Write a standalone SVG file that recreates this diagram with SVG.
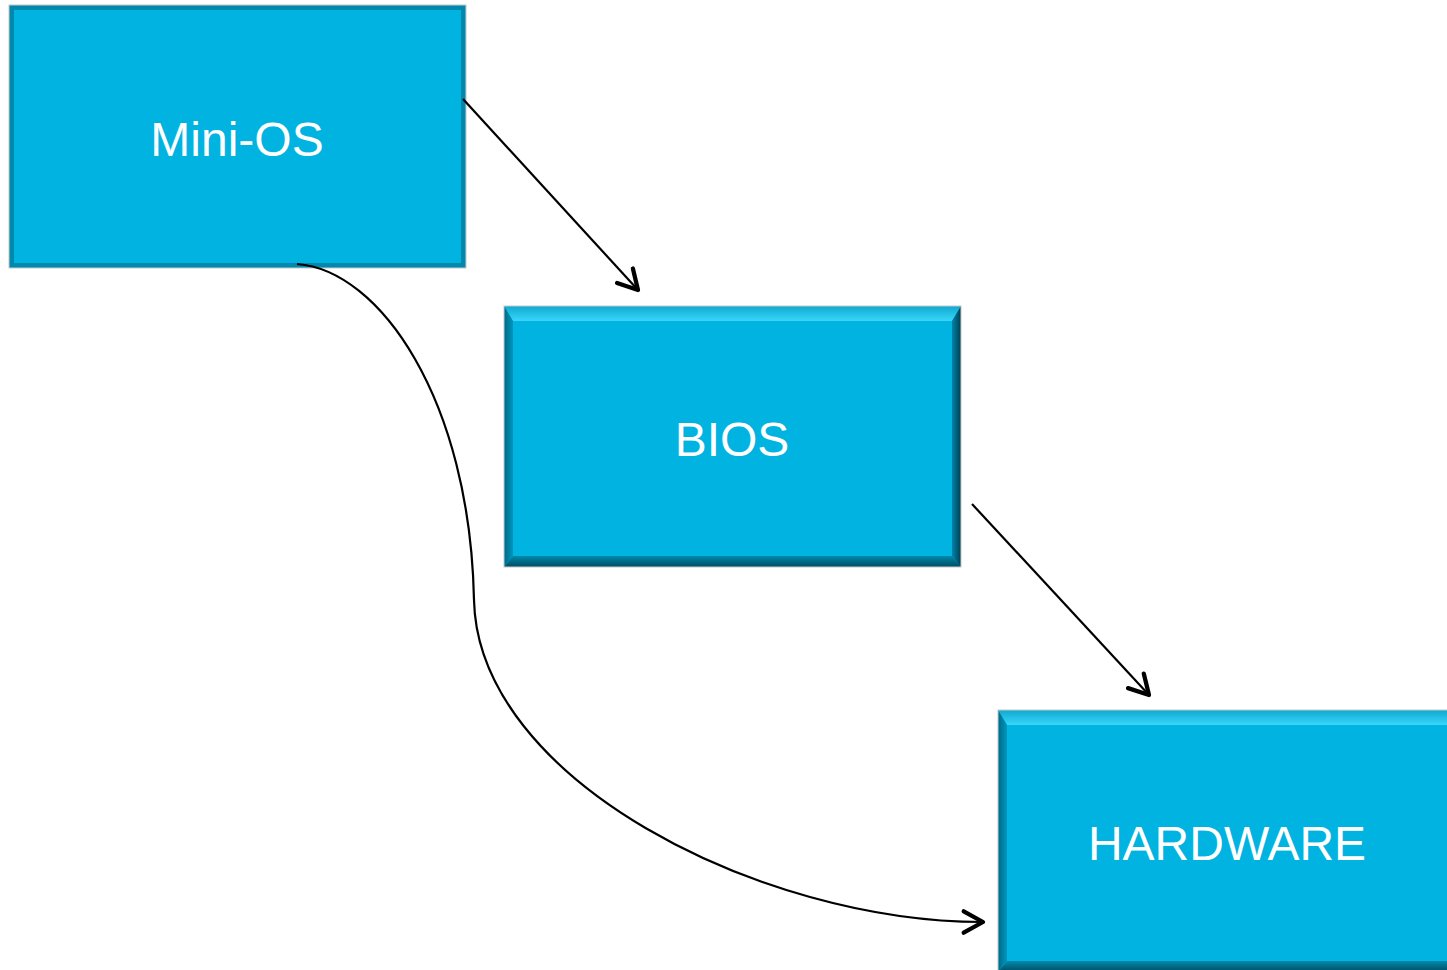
<svg xmlns="http://www.w3.org/2000/svg" width="1447" height="970" viewBox="0 0 1447 970">
  <style>
    .label { font-family: "Liberation Sans", Arial, sans-serif; font-size: 48px; fill: #ffffff; text-anchor: middle; }
    .face { fill: #00B3E0; }
    .edge { fill: none; stroke: #c8c8c8; stroke-width: 1; }
    .link { fill: none; stroke: #000000; stroke-width: 2.2; }
  </style>
  <defs>
    <marker id="head" markerUnits="userSpaceOnUse" markerWidth="30" markerHeight="30" viewBox="-22 -14 26 28" refX="0" refY="0" orient="auto">
      <path d="M-18,-10 L0,0 L-18,10" fill="none" stroke="#000" stroke-width="4" stroke-linecap="round" stroke-linejoin="round"/>
    </marker>
    <linearGradient id="bevTop" x1="0" y1="0" x2="0" y2="1">
      <stop offset="0" stop-color="#0FA9CF"/>
      <stop offset="1" stop-color="#3AD6FA"/>
    </linearGradient>
    <linearGradient id="bevBottom" x1="0" y1="0" x2="0" y2="1">
      <stop offset="0" stop-color="#0089AC"/>
      <stop offset="1" stop-color="#004C62"/>
    </linearGradient>
    <linearGradient id="bevLeft" x1="0" y1="0" x2="1" y2="0">
      <stop offset="0" stop-color="#006A88"/>
      <stop offset="1" stop-color="#0096BD"/>
    </linearGradient>
    <linearGradient id="bevRight" x1="0" y1="0" x2="1" y2="0">
      <stop offset="0" stop-color="#0085A8"/>
      <stop offset="1" stop-color="#003E52"/>
    </linearGradient>
  </defs>

  <g id="mini-os">
    <rect x="9" y="5" width="457" height="263" fill="#0089AD"/>
    <rect x="14" y="10" width="447" height="253" class="face"/>
    <rect x="9" y="5" width="457" height="263" class="edge"/>
    <text x="237" y="156" class="label">Mini-OS</text>
  </g>

  <g id="bios">
    <rect x="504" y="306" width="457" height="261" class="face"/>
    <polygon points="504,306 961,306 952,321 513,321" fill="url(#bevTop)"/>
    <polygon points="504,567 961,567 952,556 513,556" fill="url(#bevBottom)"/>
    <polygon points="504,306 513,321 513,556 504,567" fill="url(#bevLeft)"/>
    <polygon points="961,306 952,321 952,556 961,567" fill="url(#bevRight)"/>
    <rect x="504" y="306" width="457" height="261" class="edge"/>
    <text x="732" y="456" class="label">BIOS</text>
  </g>

  <g id="hardware">
    <rect x="998" y="710" width="460" height="262" class="face"/>
    <polygon points="998,710 1458,710 1449,725 1007,725" fill="url(#bevTop)"/>
    <polygon points="998,972 1458,972 1449,961 1007,961" fill="url(#bevBottom)"/>
    <polygon points="998,710 1007,725 1007,961 998,972" fill="url(#bevLeft)"/>
    <rect x="998" y="710" width="460" height="262" class="edge"/>
    <text x="1227" y="860" class="label">HARDWARE</text>
  </g>

  <g id="connectors">
    <line x1="463" y1="99" x2="638" y2="290" class="link" marker-end="url(#head)"/>
    <line x1="972" y1="504" x2="1149" y2="695" class="link" marker-end="url(#head)"/>
    <path d="M297,264 C380,270 470,400 474,600 C478,780 760,922 983,922" class="link" marker-end="url(#head)"/>
  </g>
</svg>
